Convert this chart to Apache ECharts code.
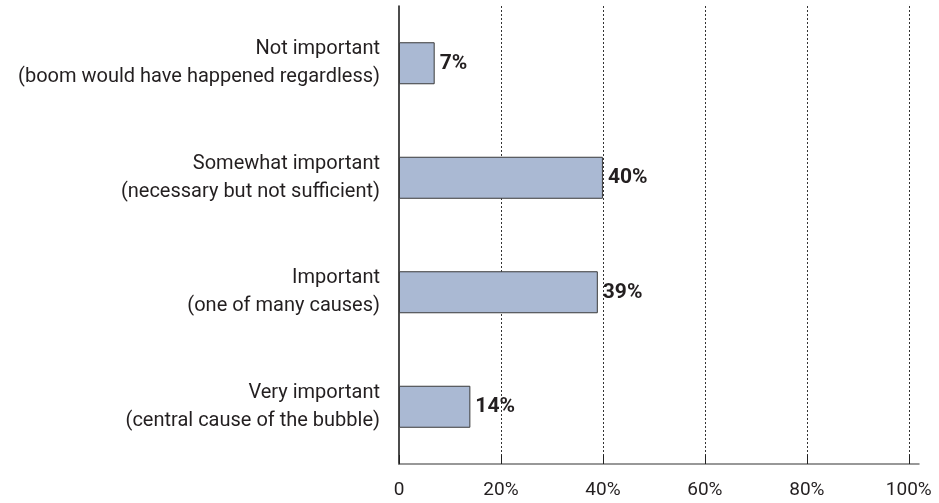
<!DOCTYPE html>
<html>
<head>
<meta charset="utf-8">
<script src="https://cdn.jsdelivr.net/npm/echarts@6/dist/echarts.min.js"></script>
<style>
  html, body { margin: 0; padding: 0; background: #fff; }
  #chart { width: 939px; height: 503px; }
</style>
</head>
<body>
<div id="chart"></div>
<script>
// Survey answers, listed bottom to top as the category axis draws them
const categories = [
  'Very important\n(central cause of the bubble)',
  'Important\n(one of many causes)',
  'Somewhat important\n(necessary but not sufficient)',
  'Not important\n(boom would have happened regardless)'
];
const shares = [14, 39, 40, 7];
const tickValues = [0, 20, 40, 60, 80, 100];

const FONT = 'Roboto';
const INK = '#231f20';

const chart = echarts.init(document.getElementById('chart'), null, { renderer: 'canvas' });
chart.setOption({
  animation: false,
  grid: { left: 399, right: 20, top: 6, bottom: 39, containLabel: false },
  xAxis: {
    type: 'value',
    min: 0,
    max: 102,
    axisLine: { show: true, lineStyle: { color: '#777', width: 1.5 } },
    axisTick: {
      show: true, inside: true, length: 9,
      customValues: tickValues,
      lineStyle: { color: '#222', width: 1 }
    },
    axisLabel: {
      customValues: tickValues,
      formatter: v => (v === 0 ? '0' : v + '%'),
      fontFamily: FONT, fontSize: 19, color: INK, margin: 17
    },
    splitLine: {
      show: true, showMinLine: false, showMaxLine: true,
      lineStyle: { type: [2, 2], color: '#333', width: 1 }
    }
  },
  yAxis: {
    type: 'category',
    data: categories,
    axisLine: { show: true, lineStyle: { color: '#111', width: 1.5 } },
    axisTick: { show: false },
    axisLabel: {
      fontFamily: FONT, fontSize: 20, lineHeight: 28, color: INK,
      align: 'right', margin: 19
    }
  },
  series: [{
    type: 'bar',
    data: shares,
    barWidth: 42,
    itemStyle: { color: '#aab9d3', borderColor: '#3a3a3a', borderWidth: 1 },
    label: {
      show: true, position: 'right', distance: 5,
      formatter: p => p.value + '%',
      fontFamily: FONT, fontSize: 21, fontWeight: 'bold', color: INK
    }
  }]
});
</script>
</body>
</html>
